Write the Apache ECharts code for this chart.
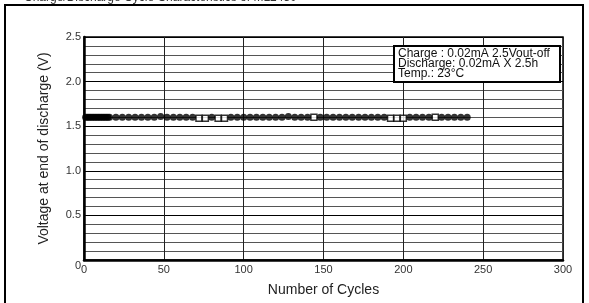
<!DOCTYPE html>
<html>
<head>
<meta charset="utf-8">
<script src="https://cdn.jsdelivr.net/npm/echarts@6/dist/echarts.min.js"></script>
<style>
  html, body { margin: 0; padding: 0; background: #fff; }
  #chart { width: 589px; height: 303px; }
</style>
</head>
<body>
<div id="chart"></div>
<script>
// cycles 1..240, voltage at end of discharge (V)
const dotCycles = [1, 2, 3, 4, 5, 6, 7, 8, 9, 10, 11, 12, 13, 14, 15, 16,
  20, 24, 28, 32, 36, 40, 44, 48, 52, 56, 60, 64, 68, 80,
  92, 96, 100, 104, 108, 112, 116, 120, 124, 128, 132, 136, 140,
  148, 152, 156, 160, 164, 168, 172, 176, 180, 184, 188,
  204, 208, 212, 216, 224, 228, 232, 236, 240];
const dotVolts = [1.60, 1.60, 1.60, 1.60, 1.60, 1.60, 1.60, 1.60, 1.60, 1.60, 1.60, 1.60, 1.60, 1.60, 1.60, 1.60,
  1.60, 1.60, 1.60, 1.60, 1.60, 1.60, 1.60, 1.61, 1.60, 1.60, 1.60, 1.60, 1.60, 1.60,
  1.60, 1.60, 1.60, 1.60, 1.60, 1.60, 1.60, 1.60, 1.60, 1.61, 1.60, 1.60, 1.60,
  1.60, 1.60, 1.60, 1.60, 1.60, 1.60, 1.60, 1.60, 1.60, 1.60, 1.60,
  1.60, 1.60, 1.60, 1.60, 1.60, 1.60, 1.60, 1.60, 1.60];
const sqCycles = [72, 76, 84, 88, 144, 192, 196, 200, 220];
const sqVolts = [1.59, 1.59, 1.59, 1.59, 1.60, 1.59, 1.59, 1.59, 1.60];

const xTicks = [0, 50, 100, 150, 200, 250, 300];
const yTicks = [0, 0.5, 1.0, 1.5, 2.0, 2.5];

const titleText = "Charge/Discharge Cycle Characteristics of ML2430";
const noteLines = ["Charge : 0.02mA 2.5Vout-off", "Discharge: 0.02mA X 2.5h", "Temp.: 23°C"];

const font = "'Liberation Sans', Arial, sans-serif";
const chart = echarts.init(document.getElementById("chart"), null, { renderer: "canvas" });

const pair = (xs, ys) => xs.map((x, i) => [x, ys[i]]);

chart.setOption({
  animation: false,
  backgroundColor: "#fff",
  grid: { left: 84, right: 26, top: 37, bottom: 43, show: true, borderColor: "#000", borderWidth: 1.5 },
  xAxis: {
    type: "value",
    min: xTicks[0],
    max: xTicks[xTicks.length - 1],
    interval: 50,
    name: "Number of Cycles",
    nameLocation: "middle",
    nameGap: 23,
    nameTextStyle: { fontFamily: font, fontSize: 14, color: "#222" },
    axisLine: { lineStyle: { color: "#000", width: 2.5 } },
    axisTick: { show: false },
    axisLabel: { fontFamily: font, fontSize: 11, color: "#333", margin: 4 },
    splitLine: { lineStyle: { color: "#222", width: 1 } },
  },
  yAxis: {
    type: "value",
    min: yTicks[0],
    max: yTicks[yTicks.length - 1],
    interval: 0.5,
    name: "Voltage at end of discharge (V)",
    nameLocation: "middle",
    nameGap: 33,
    nameTextStyle: { fontFamily: font, fontSize: 14, color: "#222" },
    axisLine: { lineStyle: { color: "#000", width: 2.5 } },
    axisTick: { show: false },
    axisLabel: {
      fontFamily: font, fontSize: 11, color: "#333", margin: 3,
      formatter: (v) => (v === 0 ? "{z|0}" : v.toFixed(1)),
      rich: { z: { fontFamily: font, fontSize: 11, color: "#333", padding: [12, 0, 0, 0] } },
    },
    splitLine: { lineStyle: { color: "#000", width: 1 } },
    minorTick: { show: false, splitNumber: 5 },
    minorSplitLine: { show: true, lineStyle: { color: "#555", width: 1 } },
  },
  series: [
    {
      type: "scatter",
      data: pair(dotCycles, dotVolts),
      symbol: "circle",
      symbolSize: 7,
      itemStyle: { color: "#000" },
      z: 3,
    },
    {
      type: "scatter",
      data: pair(sqCycles, sqVolts),
      symbol: "rect",
      symbolSize: 6,
      itemStyle: { color: "#fff", borderColor: "#000", borderWidth: 1.5 },
      z: 3,
    },
  ],
  graphic: [
    {
      type: "rect",
      shape: { x: 5, y: 5, width: 578, height: 320 },
      style: { fill: "none", stroke: "#000", lineWidth: 2 },
      silent: true,
    },
    {
      type: "text",
      left: 24,
      top: -8,
      style: { text: titleText, font: "12px " + font, fill: "#333" },
      silent: true,
    },
    {
      type: "rect",
      shape: { x: 394, y: 46, width: 166, height: 36 },
      style: { fill: "#fff", stroke: "#000", lineWidth: 2 },
      z: 100,
      silent: true,
    },
    {
      type: "text",
      x: 398,
      y: 49,
      style: { text: noteLines.join("\n"), font: "12px " + font, fill: "#111", lineHeight: 10 },
      z: 101,
      silent: true,
    },
  ],
});
</script>
</body>
</html>
